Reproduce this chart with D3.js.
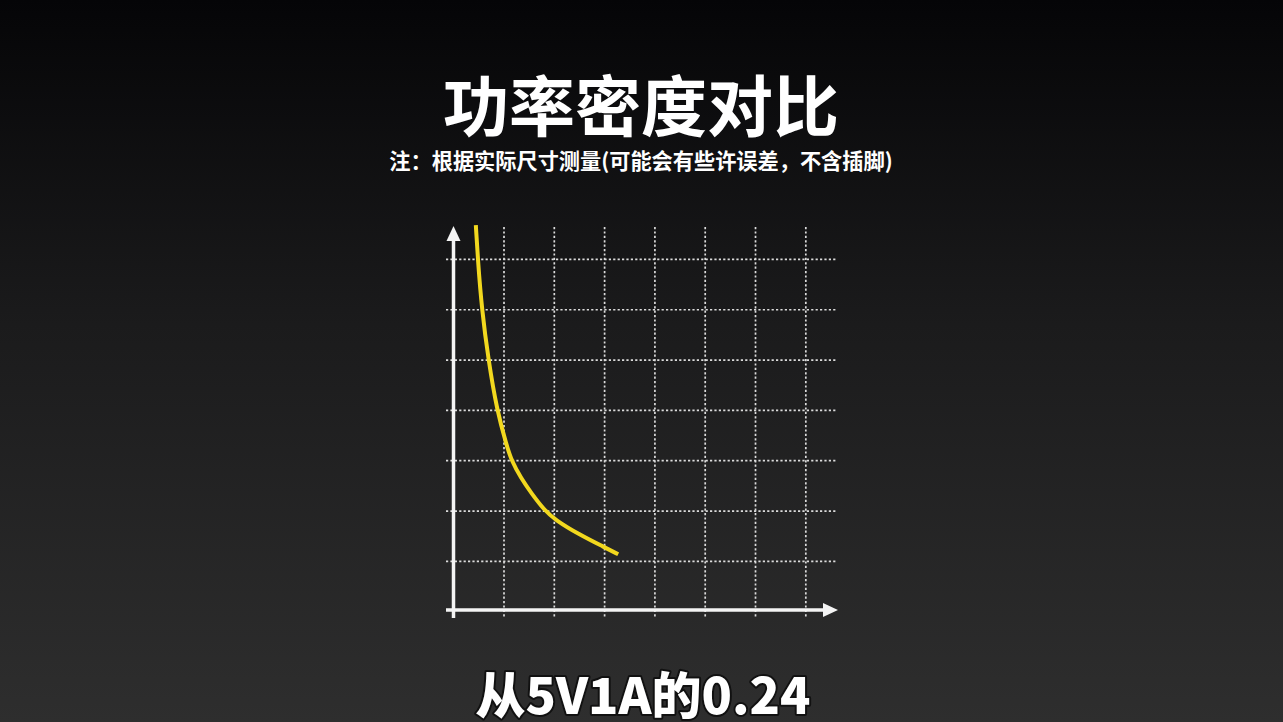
<!DOCTYPE html>
<html>
<head>
<meta charset="utf-8">
<script src="https://cdn.jsdelivr.net/npm/d3@7/dist/d3.min.js"></script>
<style>
  html, body { margin: 0; padding: 0; background: #111; overflow: hidden; }
  svg { display: block; }
</style>
</head>
<body>
<div id="chart"></div>
<script>
// text
const titleText = "功率密度对比";
const noteText = "注：根据实际尺寸测量(可能会有些许误差，不含插脚)";
const captionText = "从5V1A的0.24";

// curve (grid units)
const curveX = [0.44, 0.48, 0.56, 0.69, 0.86, 1.05, 1.15, 1.34, 1.54, 1.80, 2.01, 2.50, 3.00, 3.27];
const curveY = [7.68, 7.00, 6.00, 5.00, 4.00, 3.31, 3.00, 2.65, 2.36, 2.02, 1.83, 1.53, 1.28, 1.14];

// grid lines
const gridX = [1, 2, 3, 4, 5, 6, 7];
const gridY = [1, 2, 3, 4, 5, 6, 7];

const width = 1283, height = 722;

const svg = d3.select("#chart")
  .append("svg")
    .attr("width", width)
    .attr("height", height)
    .attr("viewBox", `0 0 ${width} ${height}`);

// background gradient
const defs = svg.append("defs");
const grad = defs.append("linearGradient")
  .attr("id", "bg")
  .attr("x1", 0).attr("y1", 0).attr("x2", 0).attr("y2", 1);
grad.append("stop").attr("offset", "0%").attr("stop-color", "#050507");
grad.append("stop").attr("offset", "45%").attr("stop-color", "#1b1b1c");
grad.append("stop").attr("offset", "100%").attr("stop-color", "#2e2e2e");

svg.append("rect")
  .attr("width", width)
  .attr("height", height)
  .attr("fill", "url(#bg)");

// scales: one grid cell ~50.3px
const xScale = d3.scaleLinear().domain([0, 7.6]).range([453.7, 836]);
const yScale = d3.scaleLinear().domain([0, 7.6]).range([611.7, 229.2]);

const chart = svg.append("g");

// dotted grid
chart.selectAll(".gx")
  .data(gridX)
  .join("line")
    .attr("class", "gx")
    .attr("x1", d => xScale(d)).attr("x2", d => xScale(d))
    .attr("y1", 227).attr("y2", 618)
    .attr("stroke", "#dcdcdc")
    .attr("stroke-width", 1.7)
    .attr("stroke-dasharray", "2.2,2.2");

chart.selectAll(".gy")
  .data(gridY)
  .join("line")
    .attr("class", "gy")
    .attr("y1", d => yScale(d)).attr("y2", d => yScale(d))
    .attr("x1", 446).attr("x2", 836)
    .attr("stroke", "#dcdcdc")
    .attr("stroke-width", 1.7)
    .attr("stroke-dasharray", "2.2,2.2");

// axes with arrows
const axisColor = "#f4f4f4";
chart.append("line")
  .attr("x1", 453.5).attr("x2", 453.5)
  .attr("y1", 618).attr("y2", 238)
  .attr("stroke", axisColor).attr("stroke-width", 3.5);
chart.append("path")
  .attr("d", "M453.5,226 L446.5,241 L460.5,241 Z")
  .attr("fill", axisColor);

chart.append("line")
  .attr("x1", 446).attr("x2", 826)
  .attr("y1", 610).attr("y2", 610)
  .attr("stroke", axisColor).attr("stroke-width", 3.5);
chart.append("path")
  .attr("d", "M838,610 L823,603 L823,617 Z")
  .attr("fill", axisColor);

// yellow curve
const curveData = curveX.map((x, i) => ({ x: x, y: curveY[i] }));
const line = d3.line()
  .x(d => xScale(d.x))
  .y(d => yScale(d.y))
  .curve(d3.curveBasis);

chart.append("path")
  .datum(curveData)
  .attr("d", line)
  .attr("fill", "none")
  .attr("stroke", "#f2d81e")
  .attr("stroke-width", 4)
  .attr("stroke-linecap", "butt");

// texts
const cjk = "'Noto Sans CJK SC', 'Noto Sans', sans-serif";

svg.append("text")
  .attr("x", 641)
  .attr("y", 131)
  .attr("text-anchor", "middle")
  .attr("font-family", cjk)
  .attr("font-weight", 700)
  .attr("font-size", 66)
  .attr("fill", "#ffffff")
  .text(titleText);

svg.append("text")
  .attr("x", 641)
  .attr("y", 169)
  .attr("text-anchor", "middle")
  .attr("font-family", cjk)
  .attr("font-weight", 700)
  .attr("font-size", 21.2)
  .attr("fill", "#ffffff")
  .text(noteText);

svg.append("text")
  .attr("x", 643)
  .attr("y", 714)
  .attr("text-anchor", "middle")
  .attr("font-family", cjk)
  .attr("font-weight", 900)
  .attr("font-size", 50)
  .attr("fill", "#ffffff")
  .attr("stroke", "#111")
  .attr("stroke-width", 4)
  .attr("paint-order", "stroke")
  .attr("stroke-linejoin", "round")
  .text(captionText);
</script>
</body>
</html>
